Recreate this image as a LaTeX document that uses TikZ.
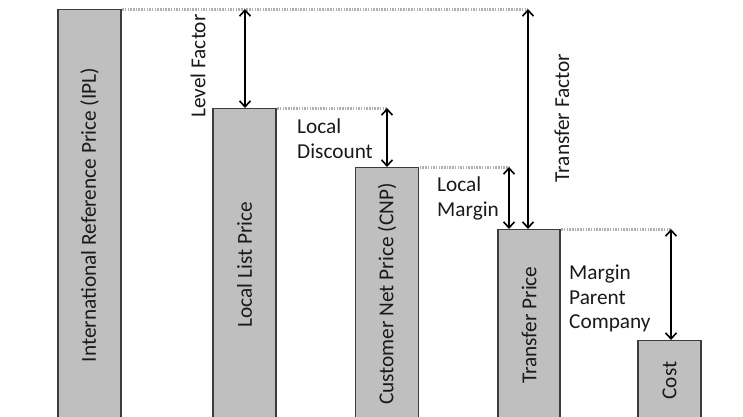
\documentclass[tikz,border=0pt]{standalone}
\usepackage{fontspec}
\setmainfont{Carlito}
\usetikzlibrary{arrows.meta}
\definecolor{barfill}{HTML}{BFBFBF}
\definecolor{barline}{HTML}{3C3C3C}
\definecolor{guide}{HTML}{B0B0B0}
\definecolor{ink}{HTML}{1A1A1A}
\begin{document}
\begin{tikzpicture}[x=1pt,y=-1pt,
  every node/.style={text=ink, font=\fontsize{21.3}{24.5}\selectfont},
  bar/.style={draw=barline, fill=barfill, line width=1.2pt, minimum width=63pt,
    anchor=north, inner sep=0pt},
  guideline/.style={draw=guide, line width=3pt, dash pattern=on 1.5pt off 1.2pt},
  gap/.style={draw=black, line width=1.8pt,
    {Straight Barb[length=6pt,width=11pt,line width=1.6pt]}-{Straight Barb[length=6pt,width=11pt,line width=1.6pt]}},
  note/.style={align=left, anchor=north west, inner sep=0pt}]
\useasboundingbox (0,0) rectangle (743,416);

% price bars, each running off the bottom edge
\node[bar, minimum height=411pt] (ipl) at (89.5,9) {\rotatebox{90}{International Reference Price (IPL)}};
\node[bar, minimum height=312pt] (llp) at (244.5,108) {\rotatebox{90}{Local List Price}};
\node[bar, minimum height=253pt] (cnp) at (387,167) {\rotatebox{90}{Customer Net Price (CNP)}};
\node[bar, minimum width=62pt, minimum height=191pt] (tp) at (529,229) {\rotatebox{90}{Transfer Price}};
\node[bar, minimum height=80pt] (cost) at (669.5,340) {\rotatebox{90}{Cost}};

% dotted level guides
\coordinate (lf) at (245,9);
\coordinate (tf) at (528,9);
\coordinate (ld) at (387,108);
\coordinate (lm) at (509,167);
\coordinate (mp) at (671,229);
\draw[guideline] ([xshift=0.6pt]ipl.north east) -- (tf);
\draw[guideline] ([xshift=0.6pt]llp.north east) -- (ld);
\draw[guideline] ([xshift=0.6pt]cnp.north east) -- (lm);
\draw[guideline] ([xshift=0.6pt]tp.north east) -- (mp);

% gaps between levels
\draw[gap] (lf) -- (lf |- llp.north);
\draw[gap] (ld) -- (ld |- cnp.north);
\draw[gap] (lm) -- (lm |- tp.north);
\draw[gap] (tf) -- (tf |- tp.north);
\draw[gap] (mp) -- (mp |- cost.north);

% labels
\node[rotate=90] (lflabel) at (198,66) {Level Factor};
\node[rotate=90] (tflabel) at (562,118) {Transfer Factor};
\node[note] (ldlabel) at (297,119) {Local\\Discount};
\node[note] (lmlabel) at (437,177) {Local\\Margin};
\node[note] (mplabel) at (569,265) {Margin\\Parent\\Company};
\end{tikzpicture}
\end{document}
